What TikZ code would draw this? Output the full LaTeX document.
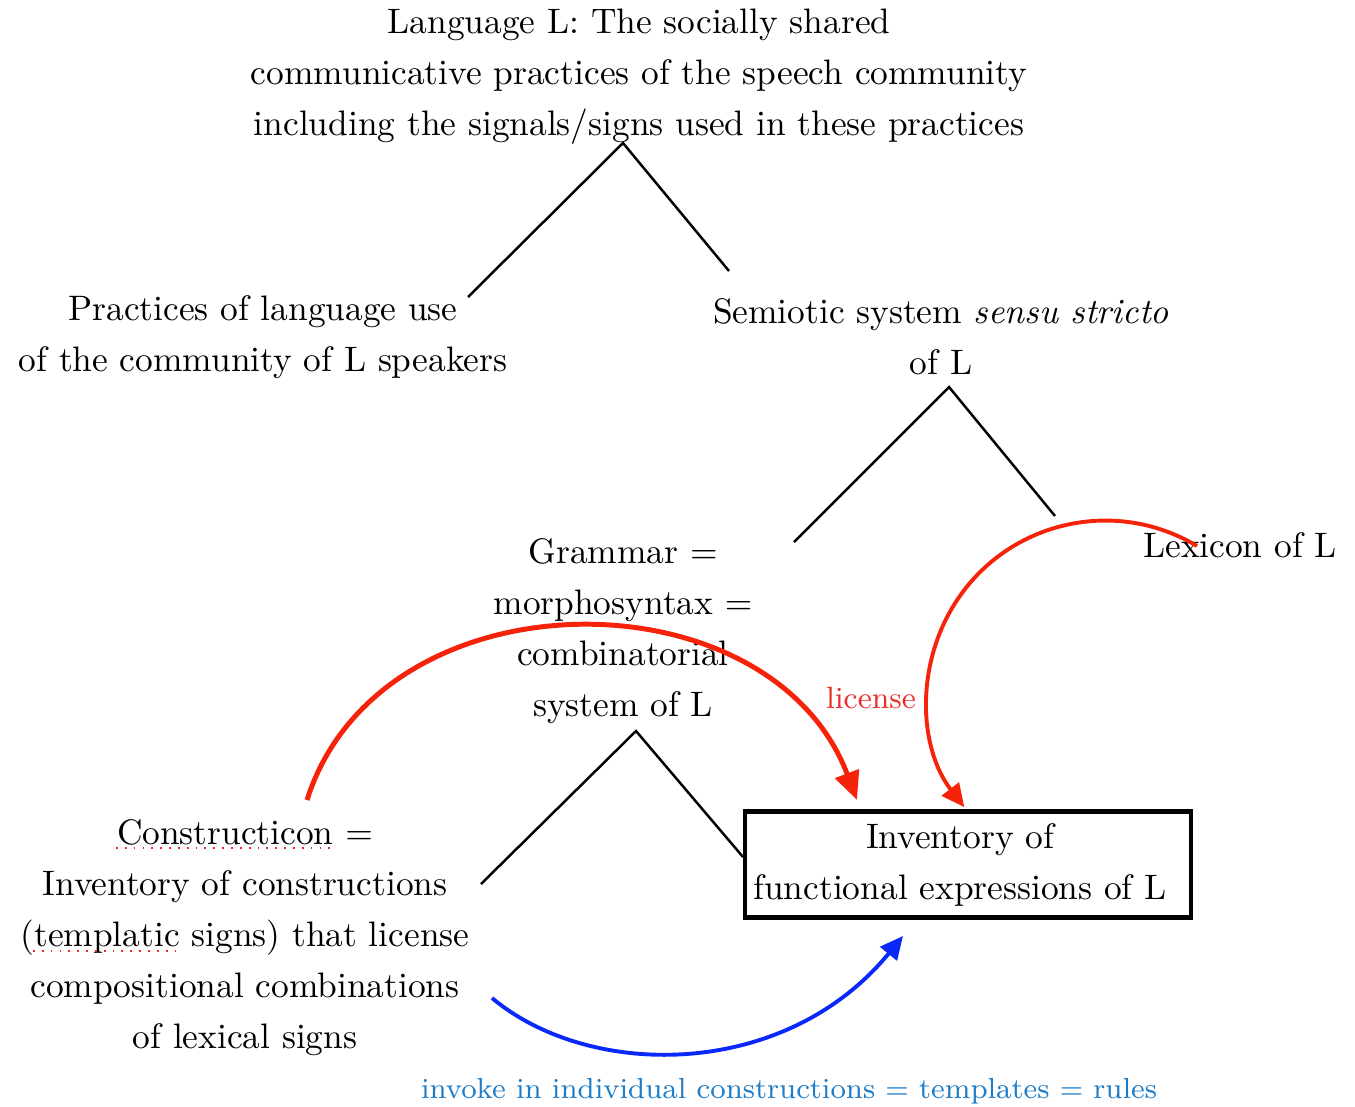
\documentclass[tikz,border=0pt]{standalone}
\usetikzlibrary{arrows.meta}
\definecolor{arcred}{RGB}{245,35,10}
\definecolor{arcblue}{RGB}{10,40,250}
\definecolor{labblue}{RGB}{30,125,200}
\definecolor{labred}{RGB}{235,45,40}
\begin{document}
\begin{tikzpicture}[x=0.2825pt,y=-0.2825pt,
  txt/.style={align=center,font=\fontsize{10}{14.4}\selectfont,inner sep=0pt},
  branch/.style={line width=0.7pt},
  licarrow/.style={arcred,line width=1.4pt,-{Triangle[length=8pt,width=7pt]}},
  lexarrow/.style={arcred,line width=1.1pt,-{Triangle[length=6.5pt,width=6pt]}},
  invarrow/.style={arcblue,line width=1.1pt,-{Triangle[length=6.5pt,width=6pt]}},
  squiggle/.style={labred,dotted,line width=0.5pt}]
\useasboundingbox (0,0) rectangle (1355,1106);

% text nodes of the tree
\node[txt] (lang) at (639,77) {Language L: The socially shared\\communicative practices of the speech community\\including the signals/signs used in these practices};
\node[txt] (use) at (263,337) {Practices of language use\\of the community of L speakers};
\node[txt] (sem) at (941,337) {Semiotic system \emph{sensu stricto}\\of L};
\node[txt] (gram) at (623,631) {Grammar $=$\\morphosyntax $=$\\combinatorial\\system of L};
\node[txt] (lex) at (1240,545) {Lexicon of L};
\node[txt] (cxn) at (245,938) {Constructicon $=$\\Inventory of constructions\\(templatic signs) that license\\compositional combinations\\of lexical signs};
\node[txt,draw,line width=1.4pt,minimum width=126pt,minimum height=29.7pt] (inv) at (968,864.5) {Inventory of\kern4.5pt\\functional expressions of L\kern4.5pt};

% branch end points
\coordinate (lang-b) at (623,143);
\coordinate (use-t) at (468,297);
\coordinate (sem-t) at (729,271);
\coordinate (sem-b) at (949,387);
\coordinate (gram-t) at (794,542);
\coordinate (lex-t) at (1055,516);
\coordinate (gram-b) at (636,731);
\coordinate (cxn-t) at (481,884);
\coordinate (inv-w) at (743,857);

\draw[branch] (use-t) -- (lang-b) -- (sem-t);
\draw[branch] (gram-t) -- (sem-b) -- (lex-t);
\draw[branch] (cxn-t) -- (gram-b) -- (inv-w);

% licensing arrows
\coordinate (cxn-arc) at (307,800);
\coordinate (inv-in1) at (857,800);
\draw[licarrow] (cxn-arc) .. controls (380,570) and (770,570) .. (inv-in1);

\coordinate (lex-arc) at (1197,546);
\draw[lexarrow] (lex-arc) arc[start angle=-59,end angle=-217.6,radius=178];
\node[font=\fontsize{8.7}{10}\selectfont,text=labred,inner sep=0pt] (lic) at (871,698) {license};

% invoking arrow
\coordinate (cxn-out) at (492,998);
\coordinate (inv-in3) at (903,936);
\draw[invarrow] (cxn-out) .. controls (590,1080) and (785,1080) .. (inv-in3);
\node[font=\fontsize{8.2}{10}\selectfont,text=labblue,inner sep=0pt] (invoke) at (789,1091) {invoke in individual constructions $=$ templates $=$ rules};

% spell-check marks
\draw[squiggle] (116,848) -- (333,848);
\draw[squiggle] (33,951) -- (181,951);
\end{tikzpicture}
\end{document}
